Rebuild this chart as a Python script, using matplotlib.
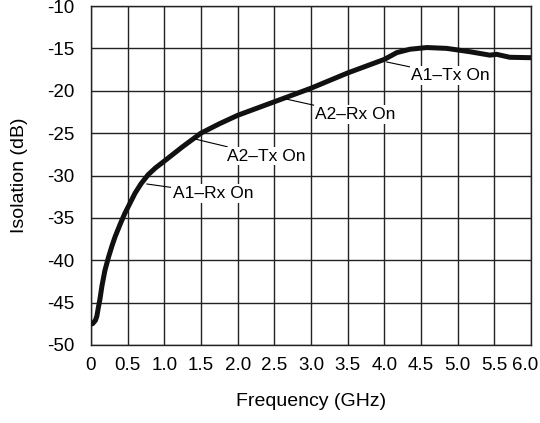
import matplotlib
matplotlib.use('Agg')
import matplotlib.pyplot as plt
import matplotlib.transforms as mtransforms

plt.rcParams['font.family'] = ['Liberation Sans', 'DejaVu Sans']
plt.rcParams['axes.unicode_minus'] = False

# Isolation curve
freq_ghz = [0.02, 0.06, 0.08, 0.10, 0.12, 0.15, 0.19, 0.24, 0.29, 0.33,
            0.40, 0.46, 0.53, 0.60, 0.68, 0.78, 0.88, 1.00, 1.25, 1.50,
            1.75, 2.00, 2.25, 2.50, 2.75, 3.00, 3.25, 3.50, 3.75, 4.00,
            4.17, 4.35, 4.58, 4.85, 5.17, 5.44, 5.53, 5.71, 6.00]
isolation_db = [-47.5, -47.1, -46.6, -45.6, -44.7, -43.0, -41.2, -39.6, -38.2, -37.2,
                -35.7, -34.5, -33.3, -32.1, -31.0, -29.9, -29.1, -28.3, -26.6, -25.0,
                -23.9, -22.9, -22.1, -21.3, -20.5, -19.7, -18.8, -17.9, -17.1, -16.3,
                -15.5, -15.1, -14.9, -15.0, -15.4, -15.8, -15.7, -16.05, -16.1]

x_ticks = [0, 0.5, 1.0, 1.5, 2.0, 2.5, 3.0, 3.5, 4.0, 4.5, 5.0, 5.5, 6.0]
x_tick_labels = ['0', '0.5', '1.0', '1.5', '2.0', '2.5', '3.0',
                 '3.5', '4.0', '4.5', '5.0', '5.5', '6.0']
y_ticks = [-50, -45, -40, -35, -30, -25, -20, -15, -10]

# callouts: text, point on curve, text anchor
labels = ['A1\u2013Rx On', 'A2\u2013Tx On', 'A2\u2013Rx On', 'A1\u2013Tx On']
label_points = [(0.76, -31.0), (1.42, -25.7), (2.62, -20.9), (4.03, -16.6)]
label_text_pos = [(1.12, -32.1), (1.85, -27.7), (3.06, -22.8), (4.37, -18.2)]

fig = plt.figure(figsize=(5.4, 4.23), dpi=100)
ax = fig.add_axes([0.1685, 0.1844, 0.8148, 0.8014])

ax.plot(freq_ghz, isolation_db, color='#111111', linewidth=3.6,
        solid_capstyle='round', solid_joinstyle='round', zorder=3)

for text, pt, tpos in zip(labels, label_points, label_text_pos):
    ax.annotate(text, xy=pt, xytext=tpos, ha='left', va='center', fontsize=12.5,
                bbox=dict(boxstyle='square,pad=0.1', fc='white', ec='none'),
                arrowprops=dict(arrowstyle='-', color='black', lw=0.8,
                                shrinkA=0, shrinkB=0),
                zorder=4)

ax.set_xlim(0, 6.0)
ax.set_ylim(-50, -10)
ax.set_xticks(x_ticks)
ax.set_xticklabels(x_tick_labels)
ax.set_yticks(y_ticks)
ax.tick_params(length=0, labelsize=13.5)
ax.tick_params(axis='x', pad=9)
ax.tick_params(axis='y', pad=12)
ax.grid(True, color='#222222', linewidth=1.0)
ax.set_axisbelow(True)
for s in ax.spines.values():
    s.set_color('#222222')
    s.set_linewidth(1.0)

# nudge the last x label so it stays inside the figure
last = ax.get_xticklabels()[-1]
last.set_transform(last.get_transform() +
                   mtransforms.ScaledTranslation(-4 / 72, 0, fig.dpi_scale_trans))

ax.set_xlabel('Frequency (GHz)', fontsize=14, labelpad=13)
ax.set_ylabel('Isolation (dB)', fontsize=14, labelpad=14)

fig.savefig('out.png', dpi=100)
